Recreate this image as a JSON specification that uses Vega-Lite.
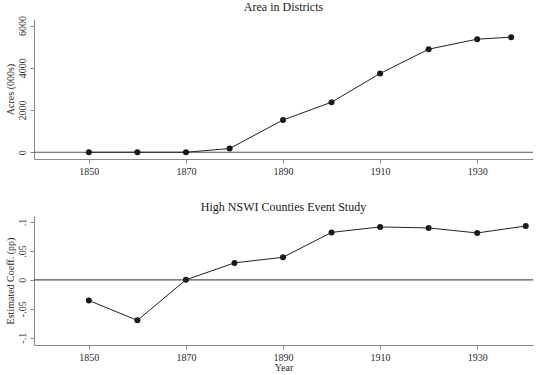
{
  "$schema": "https://vega.github.io/schema/vega-lite/v6.json",
  "background": "white",
  "padding": {"left": 4, "top": 0, "right": 5, "bottom": 0},
  "spacing": 25,
  "config": {
    "font": "Liberation Serif",
    "view": {"stroke": null},
    "axis": {
      "grid": false,
      "domainColor": "#8a8a8a",
      "tickColor": "#8a8a8a",
      "tickSize": 4,
      "labelFont": "Liberation Serif",
      "labelFontSize": 10,
      "labelColor": "#2a2a2a",
      "labelOverlap": false,
      "titleFont": "Liberation Serif",
      "titleFontSize": 10,
      "titleFontWeight": "normal",
      "titleColor": "#2a2a2a"
    },
    "title": {"font": "Liberation Serif", "fontSize": 12, "fontWeight": "normal", "color": "#1a1a1a", "offset": 2}
  },
  "datasets": {
    "area": [
      {"year": 1850, "acres": 0},
      {"year": 1860, "acres": 0},
      {"year": 1870, "acres": 0},
      {"year": 1879, "acres": 175},
      {"year": 1890, "acres": 1530},
      {"year": 1900, "acres": 2370},
      {"year": 1910, "acres": 3730},
      {"year": 1920, "acres": 4880},
      {"year": 1930, "acres": 5355},
      {"year": 1937, "acres": 5450}
    ],
    "es": [
      {"year": 1850, "coef": -0.0357},
      {"year": 1860, "coef": -0.070},
      {"year": 1870, "coef": 0},
      {"year": 1880, "coef": 0.0293},
      {"year": 1890, "coef": 0.039},
      {"year": 1900, "coef": 0.082},
      {"year": 1910, "coef": 0.0914},
      {"year": 1920, "coef": 0.0897},
      {"year": 1930, "coef": 0.081},
      {"year": 1940, "coef": 0.093}
    ],
    "zero": [{"z": 0}]
  },
  "vconcat": [
    {
      "title": "Area in Districts",
      "width": 499,
      "height": 140,
      "layer": [
        {
          "data": {"name": "zero"},
          "mark": {"type": "rule", "color": "#555555", "strokeWidth": 1.2},
          "encoding": {"y": {"field": "z", "type": "quantitative", "scale": {"domain": [-320, 6310], "nice": false, "zero": false}}}
        },
        {
          "data": {"name": "area"},
          "mark": {"type": "line", "color": "#222222", "strokeWidth": 1},
          "encoding": {
            "x": {"field": "year", "type": "quantitative", "scale": {"domain": [1838.7, 1941.5], "nice": false, "zero": false},
                  "axis": {"title": null, "values": [1850, 1870, 1890, 1910, 1930], "tickCount": 20, "format": "d", "labelPadding": 3}},
            "y": {"field": "acres", "type": "quantitative", "scale": {"domain": [-320, 6310], "nice": false, "zero": false},
                  "axis": {"title": "Acres (000s)", "values": [0, 2000, 4000, 6000], "tickCount": 20, "format": "d", "labelAngle": 270, "labelPadding": 3, "titlePadding": 2, "labelOverlap": false}}
          }
        },
        {
          "data": {"name": "area"},
          "mark": {"type": "point", "filled": true, "color": "#1a1a1a", "size": 36, "opacity": 1},
          "encoding": {
            "x": {"field": "year", "type": "quantitative"},
            "y": {"field": "acres", "type": "quantitative"}
          }
        }
      ]
    },
    {
      "title": "High NSWI Counties Event Study",
      "width": 499,
      "height": 129,
      "layer": [
        {
          "data": {"name": "zero"},
          "mark": {"type": "rule", "color": "#555555", "strokeWidth": 1.2},
          "encoding": {"y": {"field": "z", "type": "quantitative", "scale": {"domain": [-0.1126, 0.1103], "nice": false, "zero": false}}}
        },
        {
          "data": {"name": "es"},
          "mark": {"type": "line", "color": "#222222", "strokeWidth": 1},
          "encoding": {
            "x": {"field": "year", "type": "quantitative", "scale": {"domain": [1838.7, 1941.5], "nice": false, "zero": false},
                  "axis": {"title": "Year", "values": [1850, 1870, 1890, 1910, 1930], "tickCount": 20, "format": "d", "labelPadding": 3, "titlePadding": 0}},
            "y": {"field": "coef", "type": "quantitative", "scale": {"domain": [-0.1126, 0.1103], "nice": false, "zero": false},
                  "axis": {"title": "Estimated Coeff. (pp)", "values": [-0.1, -0.05, 0, 0.05, 0.1], "tickCount": 20,
                           "labelExpr": "datum.value == 0 ? '0' : datum.value == 0.1 ? '.1' : datum.value == -0.1 ? '-.1' : datum.value > 0 ? '.05' : '-.05'",
                           "labelAngle": 270, "labelPadding": 3, "titlePadding": 2, "labelOverlap": false}}
          }
        },
        {
          "data": {"name": "es"},
          "mark": {"type": "point", "filled": true, "color": "#1a1a1a", "size": 36, "opacity": 1},
          "encoding": {
            "x": {"field": "year", "type": "quantitative"},
            "y": {"field": "coef", "type": "quantitative"}
          }
        }
      ]
    }
  ]
}
